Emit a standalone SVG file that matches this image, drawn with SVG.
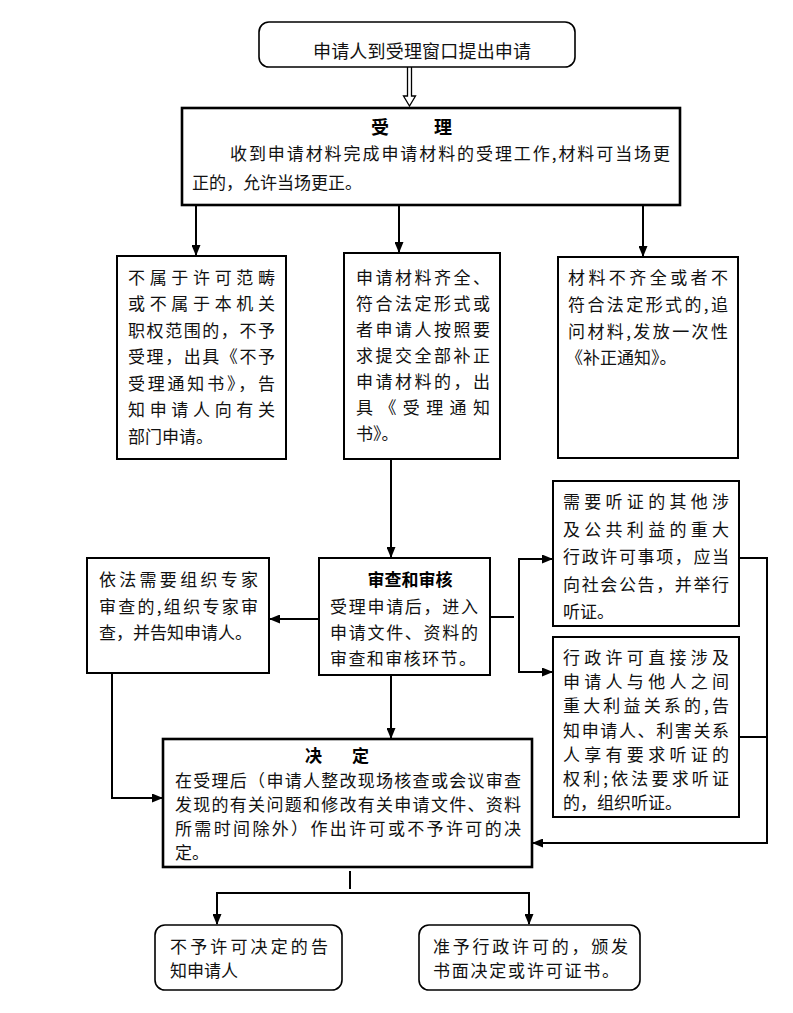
<svg xmlns="http://www.w3.org/2000/svg" width="793" height="1013" viewBox="0 0 793 1013">
<style>
.bx{fill:#fff;stroke:#000;stroke-width:2}
.bx3{fill:#fff;stroke:#000;stroke-width:2.6}
.rb{fill:#fff;stroke:#000;stroke-width:1.6}
.t{font-family:"Noto Sans CJK SC","Noto Sans CJK JP",sans-serif;font-size:17px;fill:#111}
.tb{font-family:"Noto Sans CJK SC","Noto Sans CJK JP",sans-serif;font-size:17px;font-weight:bold;fill:#000}
.c{fill:none;stroke:#000;stroke-width:2}
</style>
<defs>
<marker id="ah" markerUnits="userSpaceOnUse" markerWidth="11" markerHeight="9" refX="10" refY="4.5" orient="auto">
<path d="M0,0 L11,4.5 L0,9 z" fill="#000"/>
</marker>
</defs>
<rect width="793" height="1013" fill="#fff"/>

<g id="connectors">
<path d="M407.5,67 V96 H403.5 L409.5,106 L415.5,96 H411.5 V67" fill="#fff" stroke="#000" stroke-width="1.3"/>
<line class="c" x1="196" y1="206" x2="196" y2="255" marker-end="url(#ah)"/>
<line class="c" x1="399" y1="206" x2="399" y2="252" marker-end="url(#ah)"/>
<line class="c" x1="643" y1="206" x2="643" y2="256" marker-end="url(#ah)"/>
<line class="c" x1="391" y1="460" x2="391" y2="557" marker-end="url(#ah)"/>
<line class="c" x1="319" y1="619" x2="270" y2="619" marker-end="url(#ah)"/>
<line class="c" x1="490" y1="617" x2="514" y2="617"/>
<path class="c" d="M519,558 V672"/>
<line class="c" x1="518" y1="559" x2="552" y2="559" marker-end="url(#ah)"/>
<line class="c" x1="518" y1="672" x2="552" y2="672" marker-end="url(#ah)"/>
<path class="c" d="M739,558 H767 V843"/>
<line class="c" x1="739" y1="737" x2="767" y2="737"/>
<line class="c" x1="768" y1="843" x2="533" y2="843" marker-end="url(#ah)"/>
<path class="c" d="M112,673 V798"/>
<line class="c" x1="111" y1="798" x2="162" y2="798" marker-end="url(#ah)"/>
<line class="c" x1="391" y1="676" x2="391" y2="738" marker-end="url(#ah)"/>
<line class="c" x1="350" y1="871" x2="350" y2="889"/>
<path class="c" d="M217,924 V893 H529 V924"/>
<line class="c" x1="217" y1="893" x2="217" y2="924" marker-end="url(#ah)"/>
<line class="c" x1="529" y1="893" x2="529" y2="924" marker-end="url(#ah)"/>
</g>

<g id="n-apply">
<rect class="rb" x="259" y="22" width="316" height="45" rx="10"/>
<text class="t" x="313" y="58" style="font-size:18px" textLength="218">申请人到受理窗口提出申请</text>
</g>

<g id="n-accept">
<rect class="bx3" x="182" y="108" width="498" height="97"/>
<text class="tb" y="134" style="font-size:18px"><tspan x="371">受</tspan><tspan x="434">理</tspan></text>
<text class="t" x="230" y="160" textLength="440">收到申请材料完成申请材料的受理工作,材料可当场更</text>
<text class="t" x="192" y="189">正的，允许当场更正。</text>
</g>

<g id="n-reject">
<rect class="bx" x="117" y="256" width="169" height="203"/>
<text class="t" x="128" y="284" textLength="147">不属于许可范畴</text>
<text class="t" x="128" y="310" textLength="147">或不属于本机关</text>
<text class="t" x="128" y="337" textLength="147">职权范围的，不予</text>
<text class="t" x="128" y="363" textLength="147">受理，出具《不予</text>
<text class="t" x="128" y="390" textLength="147">受理通知书》，告</text>
<text class="t" x="128" y="416" textLength="147">知申请人向有关</text>
<text class="t" x="128" y="443">部门申请。</text>
</g>

<g id="n-complete">
<rect class="bx" x="344" y="253" width="156" height="206"/>
<text class="t" x="356" y="284" textLength="134">申请材料齐全、</text>
<text class="t" x="356" y="310" textLength="134">符合法定形式或</text>
<text class="t" x="356" y="336" textLength="134">者申请人按照要</text>
<text class="t" x="356" y="362" textLength="134">求提交全部补正</text>
<text class="t" x="356" y="388" textLength="134">申请材料的，出</text>
<text class="t" x="356" y="414" textLength="134">具《受理通知</text>
<text class="t" x="356" y="440">书》。</text>
</g>

<g id="n-incomplete">
<rect class="bx" x="558" y="257" width="180" height="201"/>
<text class="t" x="568" y="284" textLength="160">材料不齐全或者不</text>
<text class="t" x="568" y="311" textLength="160">符合法定形式的,追</text>
<text class="t" x="568" y="338" textLength="160">问材料,发放一次性</text>
<text class="t" x="566" y="364">《补正通知》。</text>
</g>

<g id="n-review">
<rect class="bx" x="319" y="558" width="171" height="117"/>
<text class="tb" x="410" y="586" text-anchor="middle">审查和审核</text>
<text class="t" x="330" y="613" textLength="148">受理申请后，进入</text>
<text class="t" x="330" y="639" textLength="148">申请文件、资料的</text>
<text class="t" x="330" y="665" textLength="146">审查和审核环节。</text>
</g>

<g id="n-expert">
<rect class="bx" x="87" y="558" width="182" height="115"/>
<text class="t" x="99" y="586" textLength="159">依法需要组织专家</text>
<text class="t" x="99" y="613" textLength="159">审查的,组织专家审</text>
<text class="t" x="99" y="639">查，并告知申请人。</text>
</g>

<g id="n-hearing1">
<rect class="bx" x="553" y="481" width="186" height="145"/>
<text class="t" x="563" y="508" textLength="166">需要听证的其他涉</text>
<text class="t" x="563" y="536" textLength="166">及公共利益的重大</text>
<text class="t" x="563" y="563" textLength="166">行政许可事项，应当</text>
<text class="t" x="563" y="591" textLength="166">向社会公告，并举行</text>
<text class="t" x="563" y="618">听证。</text>
</g>

<g id="n-hearing2">
<rect class="bx" x="553" y="637" width="186" height="180"/>
<text class="t" x="563" y="664" textLength="166">行政许可直接涉及</text>
<text class="t" x="563" y="688" textLength="166">申请人与他人之间</text>
<text class="t" x="563" y="712" textLength="166">重大利益关系的,告</text>
<text class="t" x="563" y="737" textLength="166">知申请人、利害关系</text>
<text class="t" x="563" y="761" textLength="166">人享有要求听证的</text>
<text class="t" x="563" y="785" textLength="166">权利;依法要求听证</text>
<text class="t" x="563" y="809">的，组织听证。</text>
</g>

<g id="n-decide">
<rect class="bx3" x="163" y="739" width="369" height="128"/>
<text class="tb" y="762"><tspan x="305">决</tspan><tspan x="352">定</tspan></text>
<text class="t" x="175" y="787" textLength="346">在受理后（申请人整改现场核查或会议审查</text>
<text class="t" x="175" y="811" textLength="346">发现的有关问题和修改有关申请文件、资料</text>
<text class="t" x="175" y="835" textLength="346">所需时间除外）作出许可或不予许可的决</text>
<text class="t" x="175" y="859">定。</text>
</g>

<g id="n-deny">
<rect class="rb" x="155" y="925" width="187" height="65" rx="10"/>
<text class="t" x="170" y="953" textLength="158">不予许可决定的告</text>
<text class="t" x="170" y="977">知申请人</text>
</g>

<g id="n-grant">
<rect class="rb" x="419" y="925" width="221" height="65" rx="10"/>
<text class="t" x="433" y="953" textLength="195">准予行政许可的，颁发</text>
<text class="t" x="433" y="977" textLength="186">书面决定或许可证书。</text>
</g>
</svg>
